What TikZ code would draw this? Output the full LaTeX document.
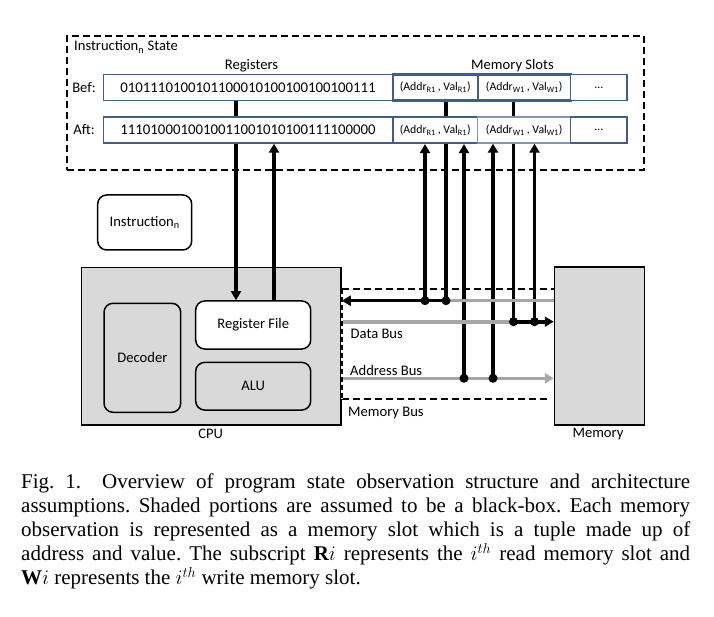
\documentclass[tikz,border=0pt]{standalone}
\usepackage{fontspec}
\setmainfont{Liberation Serif}
\newfontfamily\diag{Carlito}
\usetikzlibrary{arrows.meta,calc}
\definecolor{rowblue}{HTML}{3F5F8A}
\definecolor{rowlight}{HTML}{7F97B5}
\definecolor{boxgray}{HTML}{D9D9D9}
\definecolor{busgray}{HTML}{A6A6A6}
\begin{document}
\begin{tikzpicture}[x=1pt,y=-1pt,
  every node/.style={font=\diag\fontsize{14.6}{16}\selectfont, inner sep=0pt},
  bitfont/.style={font=\diag\fontsize{14.8}{16}\selectfont},
  slotfont/.style={font=\diag\fontsize{11.8}{13}\selectfont},
  cellthin/.style={draw=rowblue, line width=1.3pt, fill=white, minimum height=26pt},
  cellthick/.style={draw=rowblue, line width=2.2pt, fill=white, minimum height=26pt},
  celllight/.style={draw=rowlight, line width=1.3pt, fill=white, minimum height=26pt},
  conn/.style={line width=3.6pt, black},
  tip/.style={-{Triangle[length=9pt,width=10pt]}},
  bus/.style={line width=3.6pt, busgray},
  dsh/.style={line width=2pt, dash pattern=on 7pt off 4pt},
  blk/.style={draw=black, line width=1.5pt},
  dot/.style={fill=black}
]
\useasboundingbox (0,0) rectangle (714,617);

% ---------- state box ----------
\node[draw, dsh, minimum width=577pt, minimum height=134pt] (state) at (355.5,103) {};
\node[anchor=west] (statelbl) at (74,47) {Instruction\textsubscript{n} State};
\node (reglbl) at (251.5,66) {Registers};
\node (memlbl) at (512.5,66) {Memory Slots};
\node (beflbl) at (84,88) {Bef:};
\node (aftlbl) at (84,130) {Aft:};

% ---------- coordinates ----------
\coordinate (rdown) at (236,0);
\coordinate (rup) at (274,0);
\coordinate (rd1) at (425,300.7);
\coordinate (rd2) at (446,300.7);
\coordinate (wr1) at (513.5,321.7);
\coordinate (wr2) at (534.5,321.7);
\coordinate (ad1) at (464,378.3);
\coordinate (ad2) at (493,378.3);
\coordinate (bustop) at (0,289.3);
\coordinate (busbot) at (0,399.3);

% ---------- Bef row ----------
\node[cellthin, minimum width=289.5pt, bitfont] (bef-reg) at (248,87.5) {0101110100101100010100100100100111};
\node[cellthick, minimum width=85pt, slotfont] (bef-r1) at (435.2,87.5) {(Addr\textsubscript{R1}\,, Val\textsubscript{R1})};
\node[cellthick, minimum width=93pt, slotfont] (bef-w1) at (524.2,87.5) {(Addr\textsubscript{W1}\,, Val\textsubscript{W1})};
\node[cellthin, minimum width=56.3pt, slotfont] (bef-dots) at (598.8,87.5) {...};

% ---------- CPU & memory ----------
\node[blk, fill=boxgray, minimum width=259.3pt, minimum height=157.7pt] (cpu) at (211.35,346.15) {};
\node (cpulbl) at (210.7,433.5) {CPU};
\node[blk, fill=boxgray, minimum width=90pt, minimum height=157.7pt] (mem) at (599.5,346) {};
\node (memlbl2) at (598,433.5) {Memory};
\node[blk, fill=boxgray, rounded corners=9pt, minimum width=76.7pt, minimum height=109pt] (decoder) at (142.35,357.8) {Decoder};
\node[blk, fill=white, rounded corners=9pt, minimum width=115pt, minimum height=48pt] (regfile) at (253.2,325) {Register File};
\node[blk, fill=boxgray, rounded corners=9pt, minimum width=115pt, minimum height=47.7pt] (alu) at (253.2,386.2) {ALU};
\node[blk, fill=white, rounded corners=9pt, minimum width=94pt, minimum height=55pt] (instr) at (144.7,222.5) {Instruction\textsubscript{n}};

% ---------- lines passing behind the Aft row ----------
\draw[conn, tip] (bef-reg.south -| rdown) -- (regfile.north -| rdown);
\draw[conn] (bef-r1.south -| rd2) -- (rd2);
\draw[conn] (bef-w1.south -| wr1) -- (wr1);

% ---------- Aft row ----------
\node[cellthin, minimum width=289.5pt, bitfont] (aft-reg) at (248,130) {1110100010010011001010100111100000};
\node[cellthick, minimum width=85pt, slotfont] (aft-r1) at (435.2,130) {(Addr\textsubscript{R1}\,, Val\textsubscript{R1})};
\node[celllight, minimum width=93pt, slotfont] (aft-w1) at (524.2,130) {(Addr\textsubscript{W1}\,, Val\textsubscript{W1})};
\node[cellthin, minimum width=56.3pt, slotfont] (aft-dots) at (598.8,130) {...};

% ---------- upward arrows ----------
\draw[conn, tip] (regfile.north -| rup) -- (aft-reg.south -| rup);
\draw[conn, tip] (rd1) -- (aft-r1.south -| rd1);
\draw[conn, tip] (ad1) -- (aft-r1.south -| ad1);
\draw[conn, tip] (ad2) -- (aft-w1.south -| ad2);
\draw[conn, tip] (wr2) -- (aft-w1.south -| wr2);

% ---------- buses ----------
\draw[bus] (rd2) -- (mem.west |- rd2);
\draw[conn, tip] (rd2) -- (cpu.east |- rd2);
\draw[bus] (cpu.east |- wr1) -- (wr1);
\draw[conn, tip] (wr1) -- (mem.west |- wr1);
\draw[bus, -{Triangle[length=9pt,width=10pt]}] (cpu.east |- ad1) -- (mem.west |- ad1);

% memory bus frame
\draw[dsh] (cpu.east |- bustop) -- (mem.west |- bustop);
\draw[dsh] (cpu.east |- busbot) -- ($(mem.west |- busbot)+(-6,0)$);
\draw[white, line width=1.6pt] (cpu.east |- bustop) -- (cpu.east |- busbot);
\draw[line width=1.6pt, dash pattern=on 5pt off 3pt] (cpu.east |- bustop) -- (cpu.east |- busbot);

\fill[dot] (rd1) circle (4.5pt);
\fill[dot] (rd2) circle (4.5pt);
\fill[dot] (wr1) circle (4.5pt);
\fill[dot] (wr2) circle (4.5pt);
\fill[dot] (ad1) circle (4.5pt);
\fill[dot] (ad2) circle (4.5pt);

\node[anchor=west] (dbus) at (350.5,334) {Data Bus};
\node[anchor=west] (abus) at (350,370) {Address Bus};
\node[anchor=west] (mbus) at (348,412.5) {Memory Bus};

% ---------- caption ----------
\node[anchor=north west, text width=669pt, align=justify,
      font=\rmfamily\fontsize{21}{24}\selectfont\frenchspacing] (caption) at (21,474)
{Fig.~1.\quad Overview of program state observation structure and architecture\linebreak
assumptions. Shaded portions are assumed to be a black-box. Each memory\linebreak
observation is represented as a memory slot which is a tuple made up of\linebreak
address and value. The subscript $\mathbf{R}i$ represents the $i^{th}$ read memory slot and\linebreak
$\mathbf{W}i$ represents the $i^{th}$ write memory slot.};
\end{tikzpicture}
\end{document}
